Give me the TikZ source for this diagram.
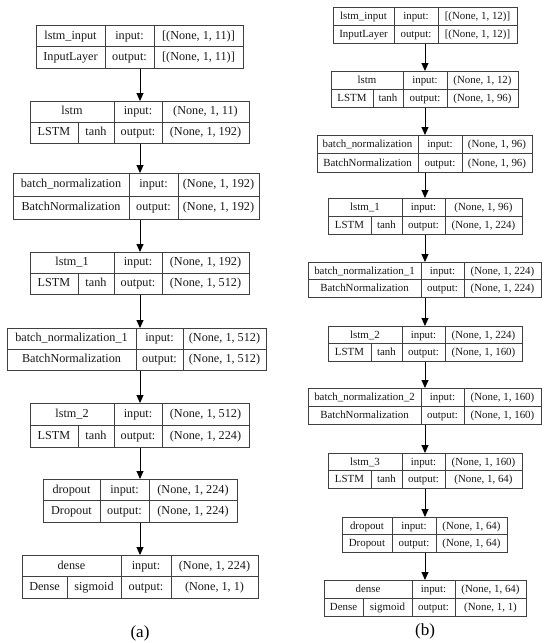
\documentclass[tikz,border=0pt]{standalone}
\usepackage{fontspec}
\setmainfont{Liberation Serif}
\usetikzlibrary{arrows.meta}
\newcommand\fa{\fontsize{12.2}{14}\selectfont}
\newcommand\fb{\fontsize{10.9}{13}\selectfont}
\tikzset{
  box/.style={draw=black!75, line width=0.9pt, inner sep=0pt, rectangle},
  div/.style={draw=black!75, line width=0.9pt},
  txt/.style={inner sep=0pt, text=black!90, text height=0.75em, text depth=0.1em},
  arr/.style={draw=black, line width=0.9pt, -{Triangle[length=8pt,width=7pt]}},
}
% type A box: name, x1, y1, x2, y2, d1, d2, top text, bottom text
\newcommand\LA[9]{%
  \node[box, minimum width={(#4-#2)*1pt}, minimum height={(#5-#3)*1pt}, anchor=north west] (#1) at (#2,#3) {};
  \draw[div] (#2,{(#3+#5)/2}) -- (#4,{(#3+#5)/2});
  \draw[div] (#6,#3) -- (#6,#5);
  \draw[div] (#7,#3) -- (#7,#5);
  \node[txt] (#1-n) at ({(#2+#6)/2},{(3*#3+#5)/4}) {#8};
  \node[txt] (#1-k) at ({(#2+#6)/2},{(#3+3*#5)/4}) {#9};
  \coordinate (#1-c2t) at ({(#6+#7)/2},{(3*#3+#5)/4});
  \coordinate (#1-c2b) at ({(#6+#7)/2},{(#3+3*#5)/4});
  \coordinate (#1-c3t) at ({(#7+#4)/2},{(3*#3+#5)/4});
  \coordinate (#1-c3b) at ({(#7+#4)/2},{(#3+3*#5)/4});
}
% type B box: name, x1, y1, x2, y2, d0, d1, d2, top text
\newcommand\LB[9]{%
  \node[box, minimum width={(#4-#2)*1pt}, minimum height={(#5-#3)*1pt}, anchor=north west] (#1) at (#2,#3) {};
  \draw[div] (#2,{(#3+#5)/2}) -- (#4,{(#3+#5)/2});
  \draw[div] (#6,{(#3+#5)/2}) -- (#6,#5);
  \draw[div] (#7,#3) -- (#7,#5);
  \draw[div] (#8,#3) -- (#8,#5);
  \node[txt] (#1-n) at ({(#2+#7)/2},{(3*#3+#5)/4}) {#9};
  \coordinate (#1-c0b) at ({(#2+#6)/2},{(#3+3*#5)/4});
  \coordinate (#1-c1b) at ({(#6+#7)/2},{(#3+3*#5)/4});
  \coordinate (#1-c2t) at ({(#7+#8)/2},{(3*#3+#5)/4});
  \coordinate (#1-c2b) at ({(#7+#8)/2},{(#3+3*#5)/4});
  \coordinate (#1-c3t) at ({(#8+#4)/2},{(3*#3+#5)/4});
  \coordinate (#1-c3b) at ({(#8+#4)/2},{(#3+3*#5)/4});
}
% class and activation for type B
\newcommand\CA[3]{%
  \node[txt] (#1-k) at (#1-c0b) {#2};
  \node[txt] (#1-act) at (#1-c1b) {#3};
}
% input/output shapes
\newcommand\IO[3]{%
  \node[txt] (#1-il) at (#1-c2t) {input:};
  \node[txt] (#1-ol) at (#1-c2b) {output:};
  \node[txt] (#1-iv) at (#1-c3t) {#2};
  \node[txt] (#1-ov) at (#1-c3b) {#3};
}
\begin{document}
\begin{tikzpicture}[x=1pt, y=-1pt]
\useasboundingbox (0,0) rectangle (550,643);
\fill[white] (0,0) rectangle (550,643);
% ---------------- panel (a) ----------------
\begin{scope}[txt/.append style={font=\fa}]
\LA{a1}{36}{25}{243}{68}{105}{154}{lstm\_input}{InputLayer}
\IO{a1}{[(None, 1, 11)]}{[(None, 1, 11)]}
\LB{a2}{30}{101}{249}{143}{78}{114}{162}{lstm}
\CA{a2}{LSTM}{tanh}
\IO{a2}{(None, 1, 11)}{(None, 1, 192)}
\LA{a3}{13}{173}{259}{219}{129}{178}{batch\_normalization}{BatchNormalization}
\IO{a3}{(None, 1, 192)}{(None, 1, 192)}
\LB{a4}{30}{252}{249}{294}{78}{114}{162}{lstm\_1}
\CA{a4}{LSTM}{tanh}
\IO{a4}{(None, 1, 192)}{(None, 1, 512)}
\LA{a5}{7}{328}{266}{370}{136}{183}{batch\_normalization\_1}{BatchNormalization}
\IO{a5}{(None, 1, 512)}{(None, 1, 512)}
\LB{a6}{30}{403}{249}{447}{78}{114}{162}{lstm\_2}
\CA{a6}{LSTM}{tanh}
\IO{a6}{(None, 1, 512)}{(None, 1, 224)}
\LA{a7}{43}{479}{237}{522}{100}{149}{dropout}{Dropout}
\IO{a7}{(None, 1, 224)}{(None, 1, 224)}
\LB{a8}{22}{555}{258}{598}{67}{121}{171}{dense}
\CA{a8}{Dense}{sigmoid}
\IO{a8}{(None, 1, 224)}{(None, 1, 1)}
\coordinate (ax) at (140,0);
\foreach \p/\q in {a1/a2,a2/a3,a3/a4,a4/a5,a5/a6,a6/a7,a7/a8}
  \draw[arr] (\p.south -| ax) -- (\q.north -| ax);
\node[inner sep=0pt, font=\fontsize{17}{19}\selectfont] (la) at (140,633) {(a)};
\end{scope}
% ---------------- panel (b) ----------------
\begin{scope}[txt/.append style={font=\fb}]
\LA{b1}{333}{7}{517}{43}{394}{438}{lstm\_input}{InputLayer}
\IO{b1}{[(None, 1, 12)]}{[(None, 1, 12)]}
\LB{b2}{331}{71}{518}{107}{373}{403}{447}{lstm}
\CA{b2}{LSTM}{tanh}
\IO{b2}{(None, 1, 12)}{(None, 1, 96)}
\LA{b3}{317}{135}{532}{172}{418}{462}{batch\_normalization}{BatchNormalization}
\IO{b3}{(None, 1, 96)}{(None, 1, 96)}
\LB{b4}{328}{198}{522}{234}{371}{402}{445}{lstm\_1}
\CA{b4}{LSTM}{tanh}
\IO{b4}{(None, 1, 96)}{(None, 1, 224)}
\LA{b5}{308}{262}{541}{297}{421}{464}{batch\_normalization\_1}{BatchNormalization}
\IO{b5}{(None, 1, 224)}{(None, 1, 224)}
\LB{b6}{328}{326}{522}{361}{371}{402}{445}{lstm\_2}
\CA{b6}{LSTM}{tanh}
\IO{b6}{(None, 1, 224)}{(None, 1, 160)}
\LA{b7}{308}{388}{541}{424}{421}{464}{batch\_normalization\_2}{BatchNormalization}
\IO{b7}{(None, 1, 160)}{(None, 1, 160)}
\LB{b8}{328}{453}{522}{488}{371}{402}{445}{lstm\_3}
\CA{b8}{LSTM}{tanh}
\IO{b8}{(None, 1, 160)}{(None, 1, 64)}
\LA{b9}{342}{517}{507}{552}{392}{436}{dropout}{Dropout}
\IO{b9}{(None, 1, 64)}{(None, 1, 64)}
\LB{b10}{324}{580}{526}{616}{363}{412}{455}{dense}
\CA{b10}{Dense}{sigmoid}
\IO{b10}{(None, 1, 64)}{(None, 1, 1)}
\coordinate (bx) at (425,0);
\foreach \p/\q in {b1/b2,b2/b3,b3/b4,b4/b5,b5/b6,b6/b7,b7/b8,b8/b9,b9/b10}
  \draw[arr] (\p.south -| bx) -- (\q.north -| bx);
\node[inner sep=0pt, font=\fontsize{17}{19}\selectfont] (lb) at (425,631) {(b)};
\end{scope}
\end{tikzpicture}
\end{document}
